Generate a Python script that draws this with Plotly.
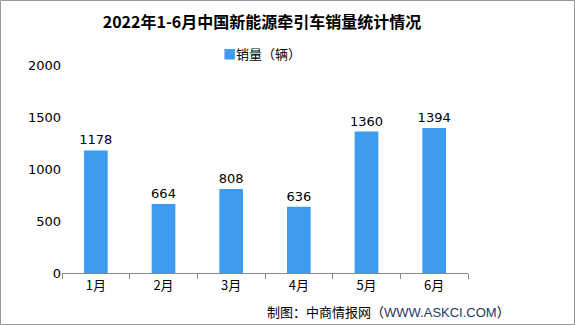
import plotly.graph_objects as go

months = ["1月", "2月", "3月", "4月", "5月", "6月"]
sales = [1178, 664, 808, 636, 1360, 1394]
y_ticks = [0, 500, 1000, 1500, 2000]

W, H = 575, 325
L, R, T, B = 62, 107, 65, 52
pw, ph = W - L - R, H - T - B

fig = go.Figure()
fig.add_trace(go.Bar(
    x=months, y=sales, name="销量（辆）",
    marker=dict(color="#3D9CF0", line=dict(width=0)),
    width=0.35,
    text=[str(v) for v in sales], textposition="outside",
    constraintext="none",
    textfont=dict(size=13, color="#000000", family="DejaVu Sans"),
    cliponaxis=False,
))

fig.update_layout(
    width=W, height=H,
    margin=dict(l=L, r=R, t=T, b=B),
    paper_bgcolor="white", plot_bgcolor="white",
    title=dict(text="<b>2022年1-6月中国新能源牵引车销量统计情况</b>",
               x=(262 - L) / pw, xref="paper", xanchor="center",
               y=1 - 22 / H, yanchor="middle",
               font=dict(size=16, color="#000000", family="Noto Sans CJK SC")),
    showlegend=False,
    xaxis=dict(showline=True, linecolor="#888888", linewidth=1,
               ticks="outside", ticklen=5, tickcolor="#888888",
               tickson="boundaries", showgrid=False,
               tickfont=dict(size=13, color="#000000", family="Noto Sans CJK SC")),
    yaxis=dict(range=[0, 2000], tickvals=y_ticks, showgrid=False,
               showline=False, zeroline=False, ticks="",
               tickfont=dict(size=13, color="#000000", family="DejaVu Sans")),
    bargap=0.65,
)

# legend drawn as text: square marker + series name
fig.add_annotation(
    text="<span style='color:#3D9CF0'>■</span>销量（辆）",
    xref="paper", yref="paper",
    x=(262 - L) / pw, y=1 + (T - 53) / ph,
    xanchor="center", yanchor="middle", showarrow=False,
    font=dict(size=13, color="#000000", family="Noto Sans CJK SC"),
)

fig.add_annotation(
    text="制图：中商情报网（<span style='color:#1F3864;font-family:Liberation Sans'>WWW.ASKCI.COM</span>）",
    xref="paper", yref="paper",
    x=(388 - L) / pw, y=-(311 - (H - B)) / ph,
    xanchor="center", yanchor="middle", showarrow=False,
    font=dict(size=13, color="#000000", family="Noto Sans CJK SC"),
)

fig.add_shape(type="rect", xref="paper", yref="paper",
              x0=-(L - 0.5) / pw, x1=(W - L - 0.5) / pw,
              y0=-(B - 0.5) / ph, y1=1 + (T - 0.5) / ph,
              line=dict(color="#999999", width=1), fillcolor="rgba(0,0,0,0)",
              layer="above")

fig.write_html("out.html")
